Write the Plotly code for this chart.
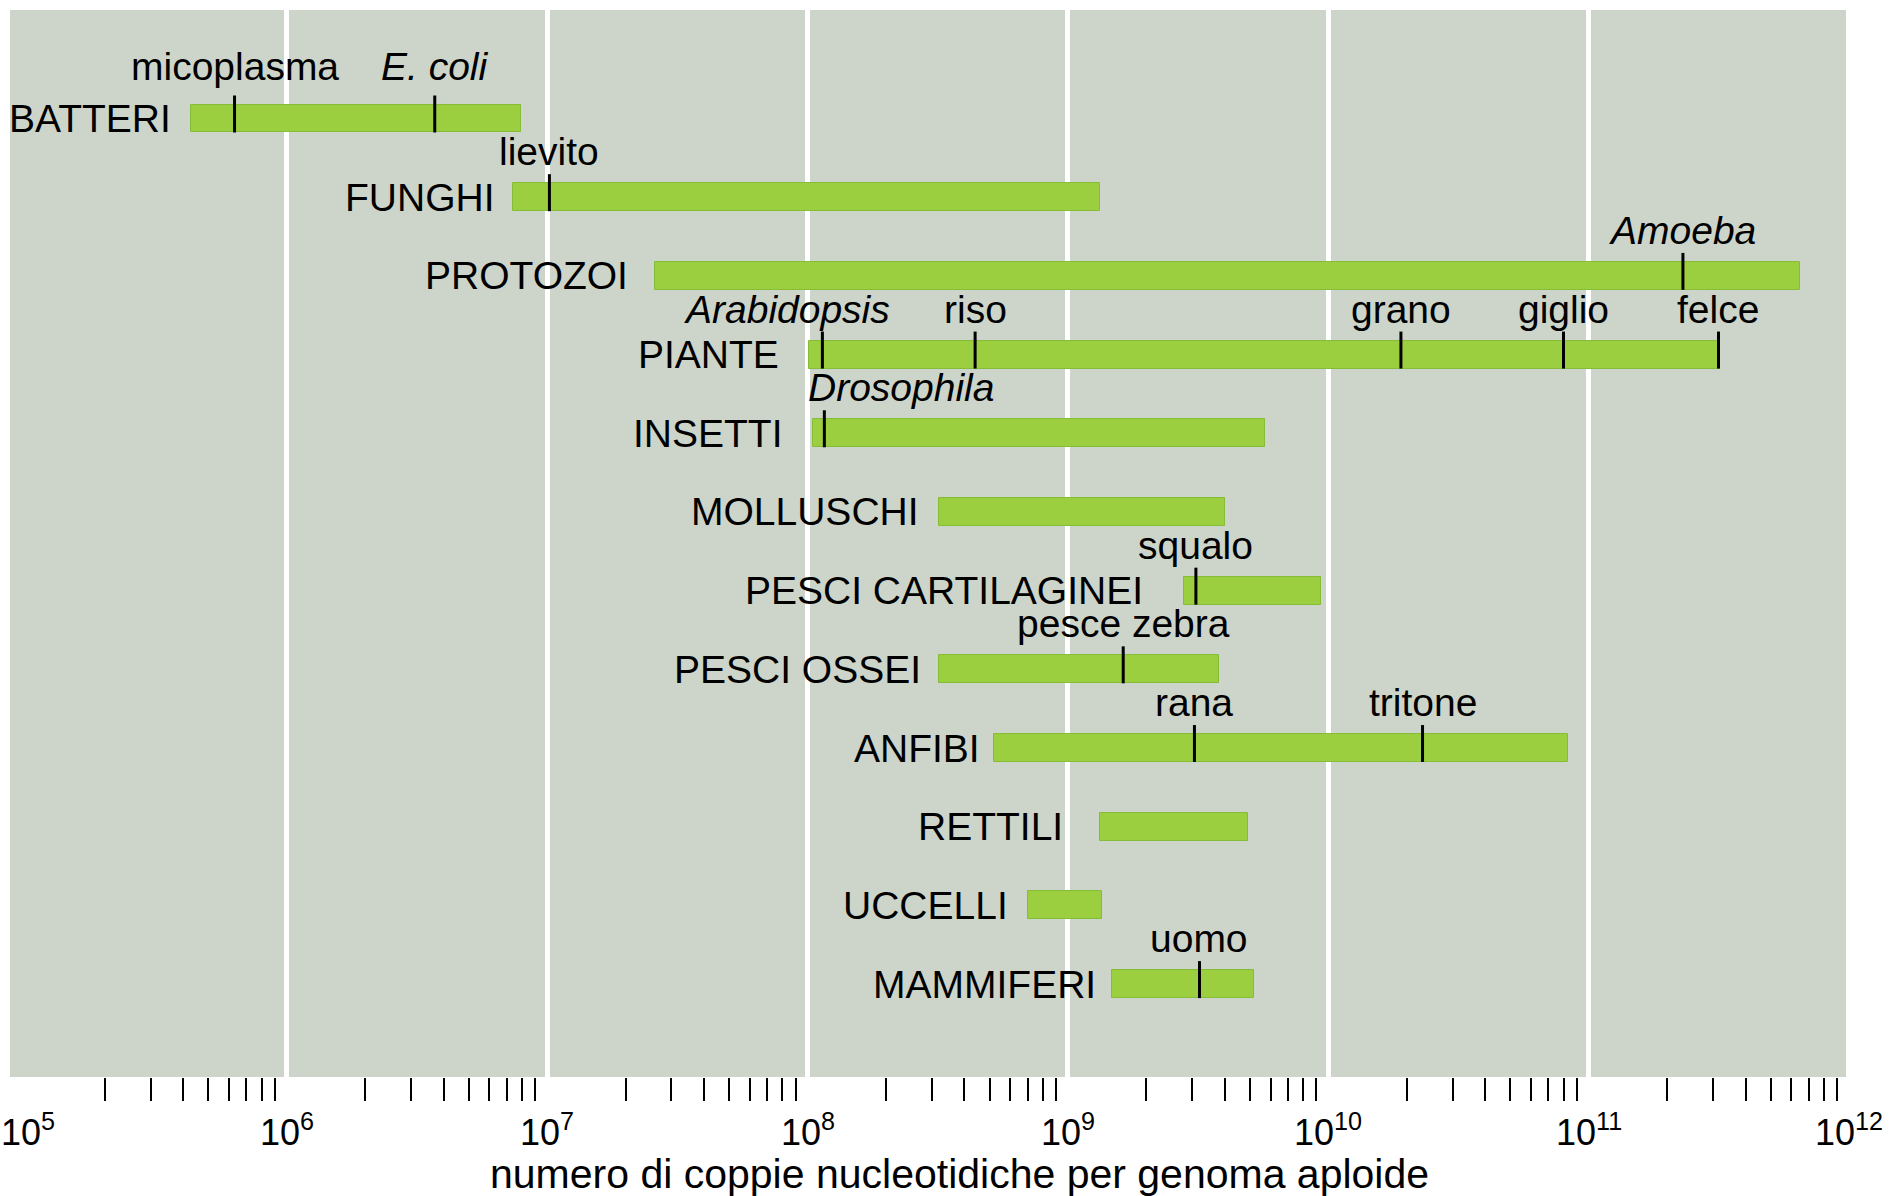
import numpy as np
import plotly.graph_objects as go

# ---------------- data ----------------
categories = ["BATTERI", "FUNGHI", "PROTOZOI", "PIANTE", "INSETTI", "MOLLUSCHI",
              "PESCI CARTILAGINEI", "PESCI OSSEI", "ANFIBI", "RETTILI", "UCCELLI", "MAMMIFERI"]
range_min = [4.3e5, 7.4e6, 2.6e7, 1.01e8, 1.05e8, 3.2e8, 2.8e9, 3.2e8, 5.2e8, 1.33e9, 7.0e8, 1.47e9]
range_max = [7.9e6, 1.33e9, 6.5e11, 3.2e11, 5.7e9, 4.0e9, 9.4e9, 3.8e9, 8.3e10, 4.9e9, 1.35e9, 5.2e9]

species_names = ["micoplasma", "<i>E. coli</i>", "lievito", "<i>Amoeba</i>", "<i>Arabidopsis</i>",
                 "riso", "grano", "giglio", "felce", "<i>Drosophila</i>", "squalo",
                 "pesce zebra", "rana", "tritone", "uomo"]
species_group = ["BATTERI", "BATTERI", "FUNGHI", "PROTOZOI", "PIANTE",
                 "PIANTE", "PIANTE", "PIANTE", "PIANTE", "INSETTI", "PESCI CARTILAGINEI",
                 "PESCI OSSEI", "ANFIBI", "ANFIBI", "MAMMIFERI"]
species_size = [6.3e5, 3.7e6, 1.02e7, 2.3e11, 1.14e8,
                4.4e8, 1.9e10, 8.0e10, 3.15e11, 1.16e8, 3.1e9,
                1.63e9, 3.06e9, 2.3e10, 3.2e9]

decade_exponents = [5, 6, 7, 8, 9, 10, 11, 12]
x_title = "numero di coppie nucleotidiche per genoma aploide"

# ---------------- style ----------------
FONT = "Liberation Sans, Arial, Helvetica, sans-serif"
FS = 39
FS_TICK = 36
FS_TITLE = 41
BG = "#CDD5CA"
GREEN = "#9BCF3F"
GREEN_EDGE = "#86BD36"
BAR_W = 0.355
XR = [4.937, 11.988]
label_xshift = {"<i>Arabidopsis</i>": -35, "<i>Drosophila</i>": 77}
label_yshift_extra = {"BATTERI": 7}
cat_gap = {"BATTERI": 18, "FUNGHI": 16, "PROTOZOI": 25, "PIANTE": 28, "INSETTI": 28,
           "MOLLUSCHI": 18, "PESCI CARTILAGINEI": 39, "PESCI OSSEI": 16, "ANFIBI": 12,
           "RETTILI": 35, "UCCELLI": 18, "MAMMIFERI": 14}

ypos = {c: i for i, c in enumerate(categories)}
ys = list(range(len(categories)))

fig = go.Figure()

fig.add_trace(go.Bar(
    y=ys, x=[h - l for l, h in zip(range_min, range_max)], base=range_min,
    orientation="h", width=BAR_W,
    marker=dict(color=GREEN, line=dict(color=GREEN_EDGE, width=1)),
    hoverinfo="skip",
))

# species marker lines
mx, my = [], []
for name, g, v in zip(species_names, species_group, species_size):
    i = ypos[g]
    mx += [v, v, None]
    my += [i + BAR_W / 2, i - BAR_W / 2 - 0.115, None]
fig.add_trace(go.Scatter(x=mx, y=my, mode="lines",
                         line=dict(color="black", width=3), hoverinfo="skip"))

annotations = []
for c, lo in zip(categories, range_min):
    annotations.append(dict(x=np.log10(lo), y=ypos[c], xref="x", yref="y", text=c,
                            showarrow=False, xanchor="right", yanchor="middle",
                            xshift=-cat_gap[c],
                            font=dict(family=FONT, size=FS, color="black")))
for name, g, v in zip(species_names, species_group, species_size):
    annotations.append(dict(x=np.log10(v), y=ypos[g], xref="x", yref="y", text=name,
                            showarrow=False, xanchor="center", yanchor="bottom",
                            yshift=22 + label_yshift_extra.get(g, 0),
                            xshift=label_xshift.get(name, 0),
                            font=dict(family=FONT, size=FS, color="black")))
for e in decade_exponents:
    annotations.append(dict(x=(e - XR[0]) / (XR[1] - XR[0]), y=0, xref="paper", yref="paper",
                            text=f"10<sup>{e}</sup>",
                            showarrow=False, xanchor="center", yanchor="middle", yshift=-53,
                            xshift=2 if e == decade_exponents[0] else 0,
                            font=dict(family=FONT, size=FS_TICK, color="black")))
annotations.append(dict(x=0.517, y=0, xref="paper", yref="paper", text=x_title,
                        showarrow=False, xanchor="center", yanchor="middle", yshift=-97,
                        font=dict(family=FONT, size=FS_TITLE, color="black")))

minor_vals = [k * 10.0 ** d for d in decade_exponents[:-1] for k in range(2, 10)]
major_vals = [10.0 ** e for e in decade_exponents[1:-1]]

fig.update_layout(
    width=1891, height=1196,
    margin=dict(l=10, r=45, t=10, b=119),
    paper_bgcolor="white", plot_bgcolor=BG,
    showlegend=False, bargap=0,
    annotations=annotations,
    xaxis=dict(type="log", range=XR, tickmode="array", tickvals=major_vals,
               showticklabels=False, ticks="", showgrid=True, gridcolor="white", gridwidth=5,
               zeroline=False, showline=False,
               minor=dict(tickmode="array", tickvals=minor_vals, ticks="outside", ticklen=23,
                          tickwidth=2, tickcolor="black", showgrid=False)),
    yaxis=dict(range=[12.18, -1.379], visible=False, showgrid=False, zeroline=False),
)

fig.write_html("out.html", config={"displayModeBar": False},
               post_script="document.body.style.margin='0';document.body.style.overflow='hidden';")
